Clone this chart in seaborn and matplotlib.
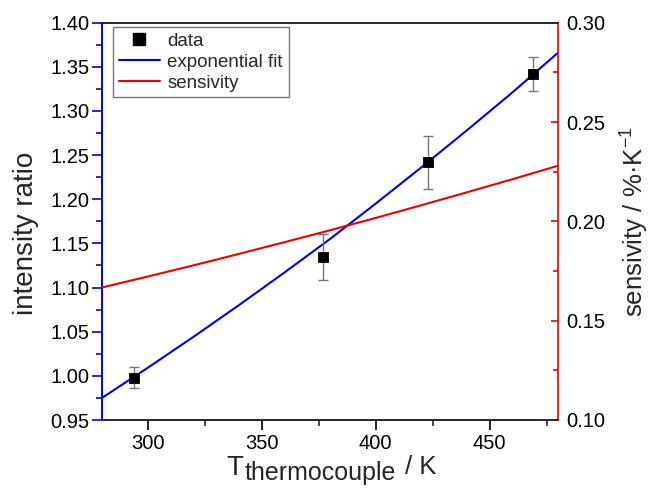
import matplotlib
matplotlib.use("Agg")
import matplotlib.pyplot as plt
import seaborn as sns
import pandas as pd
from matplotlib.ticker import MultipleLocator, FormatStrFormatter
from matplotlib.lines import Line2D

# ---- data ----
data_T = [294, 377, 423, 469]
data_ratio = [0.998, 1.135, 1.242, 1.342]
data_err = [0.012, 0.026, 0.030, 0.019]

fit_T = [280, 300, 320, 340, 360, 380, 400, 420, 440, 460, 480]
fit_ratio = [0.975, 1.009, 1.044, 1.080, 1.117, 1.155, 1.195, 1.236, 1.278, 1.321, 1.366]

sens_T = [280, 300, 320, 340, 360, 380, 400, 420, 440, 460, 480]
sens_val = [0.1667, 0.1722, 0.1778, 0.1836, 0.1895, 0.1955, 0.2017, 0.2081, 0.2146, 0.2212, 0.2280]

legend_labels = ["data", "exponential fit", "sensivity"]

sns.set_style("ticks")
plt.rcParams['font.family'] = ['Liberation Sans', 'DejaVu Sans']
plt.rcParams['mathtext.fontset'] = 'custom'
plt.rcParams['mathtext.rm'] = 'Liberation Sans'
plt.rcParams['mathtext.it'] = 'Liberation Sans'

W, H = 650, 488
fig = plt.figure(figsize=(6.5, 4.88), dpi=100)
ax = fig.add_axes([102 / W, (H - 420) / H, 456 / W, 397.3 / H])
ax2 = ax.twinx()

BLUE = "#0000ee"
RED = "#ee0000"

fit_df = pd.DataFrame({"T": fit_T, "ratio": fit_ratio})
sens_df = pd.DataFrame({"T": sens_T, "sens": sens_val})

sns.lineplot(data=fit_df, x="T", y="ratio", ax=ax, color=BLUE, lw=1.5, zorder=3)
sns.lineplot(data=sens_df, x="T", y="sens", ax=ax2, color=RED, lw=1.5, zorder=3)
ax.errorbar(data_T, data_ratio, yerr=data_err, fmt='none', ecolor='#777777',
            elinewidth=1, capsize=3.5, capthick=1, zorder=4)
sns.scatterplot(x=data_T, y=data_ratio, ax=ax, marker='s', s=58, color='black',
                edgecolor='black', zorder=5)

ax.set_xlim(280, 480)
ax.set_ylim(0.95, 1.40)
ax2.set_ylim(0.10, 0.30)
ax.xaxis.set_major_locator(MultipleLocator(50))
ax.xaxis.set_minor_locator(MultipleLocator(25))
ax.yaxis.set_major_locator(MultipleLocator(0.05))
ax.yaxis.set_minor_locator(MultipleLocator(0.025))
ax2.yaxis.set_major_locator(MultipleLocator(0.05))
ax2.yaxis.set_minor_locator(MultipleLocator(0.025))
ax.yaxis.set_major_formatter(FormatStrFormatter('%.2f'))
ax2.yaxis.set_major_formatter(FormatStrFormatter('%.2f'))

for a in (ax, ax2):
    for s in a.spines.values():
        s.set_linewidth(1.2)
ax.spines['left'].set_color(BLUE)
ax2.spines['left'].set_color(BLUE)
ax2.spines['right'].set_color(RED)
ax.spines['right'].set_visible(False)

ax.tick_params(axis='x', which='major', direction='out', length=7, width=1.2,
               labelsize=14.5, colors='black', pad=3, top=False)
ax.tick_params(axis='x', which='minor', direction='out', length=4, width=1.2, top=False)
ax.tick_params(axis='y', which='major', direction='out', length=7, width=1.2,
               color=BLUE, labelcolor='black', labelsize=14.5, pad=2)
ax.tick_params(axis='y', which='minor', direction='out', length=4, width=1.2, color=BLUE)
ax2.tick_params(axis='y', which='major', direction='in', length=5, width=1.2,
                color=RED, labelcolor='black', labelsize=14.5, pad=6)
ax2.tick_params(axis='y', which='minor', direction='in', length=3.5, width=1.2, color=RED)

ax.set_xlabel("")
ax.set_ylabel("intensity ratio", fontsize=20)
ax.yaxis.set_label_coords(-0.138, 0.47)
ax2.set_ylabel(r"sensivity / %·K$^{-1}$", fontsize=18.5)
ax2.yaxis.set_label_coords(1.133, 0.5)

# x label assembled from pieces (large subscript like the reference)
fig.canvas.draw()
renderer = fig.canvas.get_renderer()
base_y = 13.0
t1 = fig.text(0, base_y / H, "T", fontsize=20, va='baseline')
t2 = fig.text(0, (base_y - 5) / H, "thermocouple", fontsize=18, va='baseline')
t3 = fig.text(0, (base_y + 1) / H, "/ K", fontsize=18.5, va='baseline')
w1 = t1.get_window_extent(renderer).width
w2 = t2.get_window_extent(renderer).width
w3 = t3.get_window_extent(renderer).width
gap1, gap2 = 1.0, 9.0
total = w1 + gap1 + w2 + gap2 + w3
x0 = 331.5 - total / 2
t1.set_x(x0 / W)
t2.set_x((x0 + w1 + gap1) / W)
t3.set_x((x0 + w1 + gap1 + w2 + gap2) / W)

handles = [
    Line2D([], [], marker='s', color='black', ls='none', markersize=8.5),
    Line2D([], [], color=BLUE, lw=1.5),
    Line2D([], [], color=RED, lw=1.5),
]
leg = ax.legend(handles, legend_labels, loc='upper left',
                bbox_to_anchor=(11 / 456, 1 - 4.5 / 397.3), borderaxespad=0,
                fontsize=13.5, frameon=True, fancybox=False,
                edgecolor='#777777', framealpha=1, borderpad=0.3, labelspacing=0.2,
                handlelength=2.2, handletextpad=0.4)
leg.get_frame().set_linewidth(1.0)
leg.set_zorder(10)

fig.savefig("out.png", dpi=100)
